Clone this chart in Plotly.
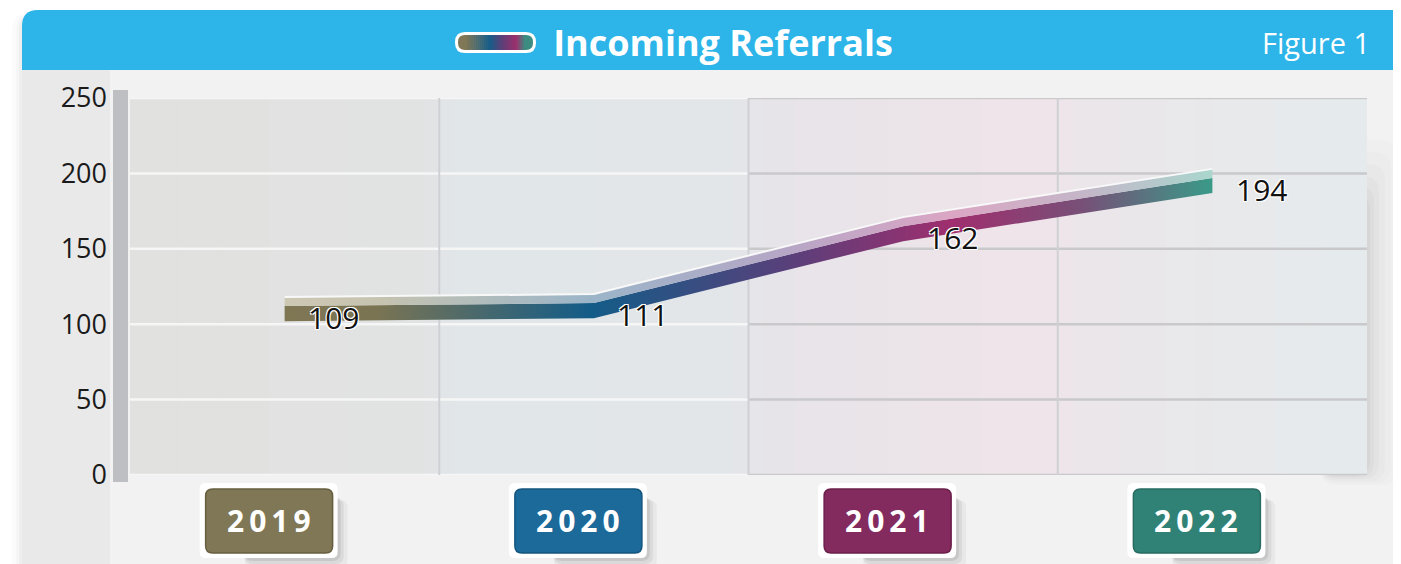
import numpy as np
import plotly.graph_objects as go

years = ['2019', '2020', '2021', '2022']
referrals = [109, 111, 162, 194]
year_colors = ['#7f7755', '#1b6a9a', '#832a5e', '#318276']
year_borders = ['#675f40', '#14557e', '#6b1f4a', '#276b61']

W, H = 1401, 564
OFF = 8                      # the page body margin shifts the figure by 8px
PL, PT, PR, PB = 130, 98, 1367, 475   # plot area in page pixels
ML, MT = PL - OFF, PT - OFF
MR, MB = W - (PR - OFF), H - (PB - OFF)
X0, Y0 = PL, PB


def rr(x0, y0, x1, y1, r):
    xa, xb = min(x0, x1), max(x0, x1)
    ya, yb = min(y0, y1), max(y0, y1)
    return (f'M{xa+r},{ya} L{xb-r},{ya} Q{xb},{ya} {xb},{ya+r} L{xb},{yb-r} '
            f'Q{xb},{yb} {xb-r},{yb} L{xa+r},{yb} Q{xa},{yb} {xa},{yb-r} '
            f'L{xa},{ya+r} Q{xa},{ya} {xa+r},{ya} Z')


def page_rr(x0, y0, x1, y1, r):
    return rr(x0 - X0, Y0 - y0, x1 - X0, Y0 - y1, r)


def page_shape(path, color, line=None):
    d = dict(type='path', xref='paper', yref='paper', xsizemode='pixel', ysizemode='pixel',
             xanchor=0, yanchor=0, path=path, fillcolor=color, layer='below')
    d['line'] = line if line else dict(width=0)
    return d


def hex_rgb(h):
    return tuple(int(h[k:k + 2], 16) for k in (1, 3, 5))


def blend(stops, t):
    for (t0, c0), (t1, c1) in zip(stops[:-1], stops[1:]):
        if t <= t1:
            f = (t - t0) / (t1 - t0)
            a, b = hex_rgb(c0), hex_rgb(c1)
            return 'rgb(%d,%d,%d)' % tuple(int(p + (q - p) * f) for p, q in zip(a, b))
    return stops[-1][1]


shapes = []

# card shadow on the left
for k, a in [(10, 0.015), (6, 0.02), (3, 0.03)]:
    shapes.append(page_shape(page_rr(22 - k, 14, 40, H + 20, 16), f'rgba(0,0,0,{a})'))

# card body + header with rounded top-left corner
def card_path(top, bottom):
    x0, x1, r = 22 - X0, W + 30 - X0, 16
    yt, yb = Y0 - top, Y0 - bottom
    return f'M{x0},{yb} L{x0},{yt-r} Q{x0},{yt} {x0+r},{yt} L{x1},{yt} L{x1},{yb} Z'

shapes.append(page_shape(card_path(10, H + 30), '#f2f2f2'))
shapes.append(page_shape(page_rr(22, 70, 110, H + 30, 0), '#e9e9ea'))
shapes.append(page_shape(card_path(10, 70), '#2db4e8'))

# title pill with a gradient
shapes.append(page_shape(page_rr(455, 32, 536, 53, 10), '#ffffff'))
pill_stops = [(0.0, '#7f7755'), (0.4, '#165e8a'), (0.6, '#5a4078'),
              (0.85, '#9e306e'), (1.0, '#3c8c82')]
shapes.append(page_shape(page_rr(458, 35, 472, 50, 7), blend(pill_stops, 0)))
shapes.append(page_shape(page_rr(519, 35, 533, 50, 7), blend(pill_stops, 1)))
n = 30
for j in range(n):
    xa = 465 + j * 61 / n
    shapes.append(page_shape(page_rr(xa, 35, xa + 61 / n + 0.6, 50, 0), blend(pill_stops, j / (n - 1))))

# soft shadow to the right of the plot area
for k, a in [(30, 0.010), (24, 0.012), (18, 0.015), (12, 0.02), (7, 0.025), (3, 0.03)]:
    shapes.append(page_shape(page_rr(1320, 200 - k * 2, PR + k, PB + k / 3, 16), f'rgba(0,0,0,{a})'))

# plot background: soft tint that shifts from grey to blue to pink to grey-green
bg_stops = [(-0.5, '#e1e1df'), (0.45, '#e2e3e3'), (0.55, '#e1e6e9'), (1.45, '#e3e6e9'),
            (1.55, '#e7e5e9'), (2.45, '#f0e4ea'), (2.55, '#ece6ea'), (3.5, '#e5eced')]
m = 80
for j in range(m):
    xa = -0.5 + 4 * j / m
    shapes.append(dict(type='rect', xref='x', yref='y', x0=xa, x1=xa + 4 / m + 0.01, y0=0, y1=250,
                       fillcolor=blend(bg_stops, xa + 2 / m), line=dict(width=0), layer='below'))

# horizontal grid lines: light on the left, grey on the right
for g in range(0, 251, 50):
    shapes.append(dict(type='line', xref='x', yref='y', x0=-0.5, x1=1.5, y0=g, y1=g,
                       line=dict(color='#f6f6f6', width=2.5), layer='below'))
    shapes.append(dict(type='line', xref='x', yref='y', x0=1.5, x1=3.5, y0=g, y1=g,
                       line=dict(color='#c9c9cc', width=2.5), layer='below'))

# vertical separators between years
for b in [0.5, 1.5, 2.5]:
    shapes.append(dict(type='line', xref='x', yref='y', x0=b, x1=b, y0=0, y1=250,
                       line=dict(color='#cfd0d4', width=2), layer='below'))

# y axis bar
shapes.append(page_shape(page_rr(113, 90, 128, 482, 0), '#bebfc3'))

# year boxes under the axis (anchored on the category, measured down from the plot bottom)
def year_shape(path, color, i, line=None):
    d = dict(type='path', xref='x', yref='paper', xsizemode='pixel', ysizemode='pixel',
             xanchor=i, yanchor=0, path=path, fillcolor=color, layer='below')
    d['line'] = line if line else dict(width=0)
    return d

for i in range(len(years)):
    for k, a in [(10, 0.04), (6, 0.06), (3, 0.08)]:
        shapes.append(year_shape(rr(-40, -20 - k / 2, 53 + k, -83 - k, 8), f'rgba(0,0,0,{a})', i))
    shapes.append(year_shape(rr(-85, -8, 53, -83, 6), '#ffffff', i))
    shapes.append(year_shape(rr(-79, -14, 48, -78, 7), year_colors[i], i,
                             dict(color=year_borders[i], width=1.5)))

fig = go.Figure()

x = np.arange(len(years))
v = np.array(referrals, dtype=float)
main_scale = [[0, '#7f7654'], [0.1, '#7a7453'], [0.33, '#135c88'], [0.55, '#5b3f7a'],
              [0.72, '#a02e6e'], [0.86, '#775078'], [1, '#3a9a88']]
light_scale = [[0, '#cdc8b4'], [0.1, '#c6c3b0'], [0.33, '#9bb5c8'], [0.55, '#b8a6c6'],
               [0.72, '#dba6c4'], [0.86, '#c4b6c8'], [1, '#a9d6cd']]

fig.add_trace(go.Scatter(
    x=np.r_[x, x[::-1]], y=np.r_[v - 7, (v + 3)[::-1]],
    mode='lines', fill='toself', line=dict(width=0),
    fillgradient=dict(type='horizontal', colorscale=main_scale, start=0, stop=3),
    hoverinfo='skip', showlegend=False
))
fig.add_trace(go.Scatter(
    x=np.r_[x, x[::-1]], y=np.r_[v + 3, (v + 9)[::-1]],
    mode='lines', fill='toself', line=dict(width=0),
    fillgradient=dict(type='horizontal', colorscale=light_scale, start=0, stop=3),
    hoverinfo='skip', showlegend=False
))
fig.add_trace(go.Scatter(
    x=x, y=v + 9, mode='lines', line=dict(color='#f8f8f8', width=2),
    hoverinfo='skip', showlegend=False
))

annotations = []
halo = '-1px -1px 0 #fff, 1px -1px 0 #fff, -1px 1px 0 #fff, 1px 1px 0 #fff'
for i, val in enumerate(referrals):
    annotations.append(dict(x=i, y=val, xref='x', yref='y', text=str(val), showarrow=False,
                            xshift=49, yshift=-7,
                            font=dict(family='Open Sans', size=30, color='#111111', shadow=halo)))
    annotations.append(dict(x=i, y=0, xref='x', yref='y', text='\u2009'.join(years[i]),
                            showarrow=False, xshift=-16, yshift=-45,
                            font=dict(family='Open Sans', size=30, color='#ffffff', weight='bold')))

annotations.append(dict(x=(1316 - X0) / (PR - PL), y=(Y0 - 43) / (PB - PT),
                        xref='paper', yref='paper', xanchor='center', yanchor='middle',
                        text='Figure 1', showarrow=False,
                        font=dict(family='Open Sans', size=29, color='#ffffff')))

fig.update_layout(
    width=W, height=H,
    margin=dict(l=ML, r=MR, t=MT, b=MB),
    paper_bgcolor='#ffffff',
    plot_bgcolor='rgba(0,0,0,0)',
    title=dict(text='Incoming Referrals', x=(723 - OFF) / W, xanchor='center',
               y=1 - (43 - OFF) / H, yanchor='middle', yref='container',
               font=dict(family='Open Sans', size=36, color='#ffffff', weight='bold')),
    xaxis=dict(range=[-0.5, 3.5], showticklabels=False, showgrid=False, zeroline=False,
               showline=False, fixedrange=True),
    yaxis=dict(range=[0, 250], dtick=50, showgrid=False, zeroline=False, showline=False,
               ticklabelstandoff=22, tickfont=dict(family='Open Sans', size=27, color='#1a1a1a'),
               fixedrange=True),
    shapes=shapes,
    annotations=annotations,
    showlegend=False
)

fig.write_html("out.html")
